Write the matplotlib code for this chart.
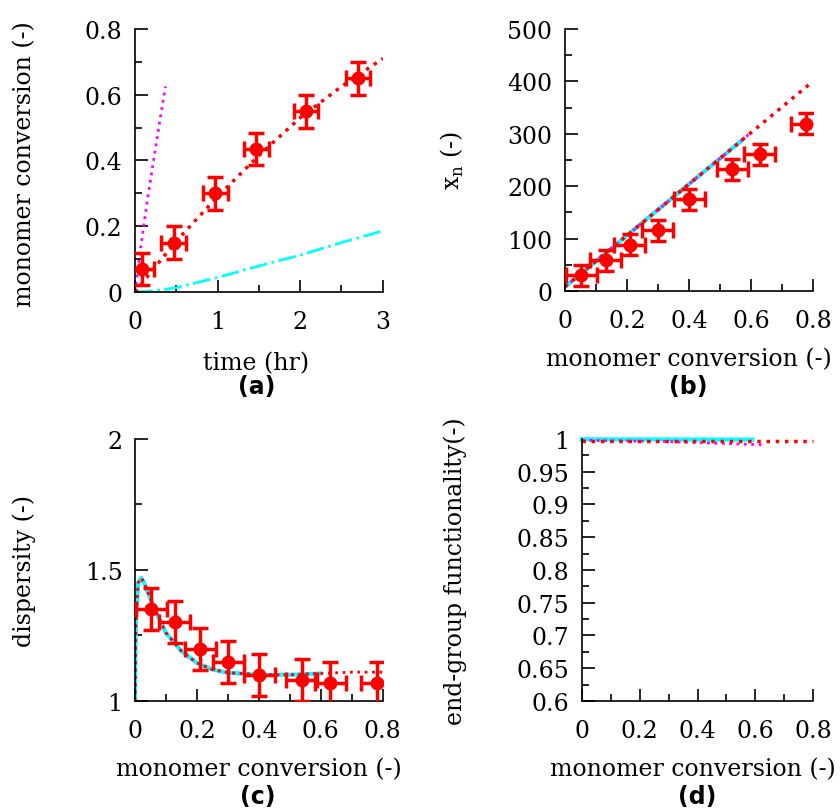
import matplotlib
matplotlib.use("Agg")
import matplotlib.pyplot as plt
from matplotlib.ticker import MultipleLocator
import numpy as np

plt.rcParams['font.family'] = ['DejaVu Serif']
plt.rcParams['font.size'] = 17

# (a) conversion vs time
t_exp = [0.08, 0.47, 0.97, 1.47, 2.07, 2.70]
conv_exp = [0.07, 0.15, 0.30, 0.435, 0.55, 0.65]
t_fit = [0, 0.5, 1.0, 1.5, 2.0, 2.5, 3.0]
conv_fit = [0, 0.155, 0.29, 0.415, 0.53, 0.625, 0.71]
t_mag = [0, 0.05, 0.1, 0.15, 0.2, 0.25, 0.3, 0.37]
conv_mag = [0, 0.10, 0.19, 0.28, 0.36, 0.44, 0.52, 0.625]
t_cyan = [0, 0.25, 0.5, 1.0, 1.5, 2.0, 2.5, 3.0]
conv_cyan = [0, 0.004, 0.013, 0.044, 0.079, 0.112, 0.15, 0.186]

# (b) xn vs conversion
xb_exp = [0.052, 0.132, 0.209, 0.299, 0.401, 0.539, 0.628, 0.779]
xn_exp = [30, 59, 88, 116, 175, 232, 261, 319]
xb_fit = [0, 0.2, 0.4, 0.6, 0.8]
xn_fit = [8, 106, 204, 302, 400]
xb_cyan = [0, 0.2, 0.4, 0.57]
xn_cyan = [8, 106, 204, 287]
xb_mag = [0, 0.2, 0.4, 0.6]
xn_mag = [8, 106, 204, 302]

# (c) dispersity vs conversion
xc_exp = [0.052, 0.129, 0.21, 0.301, 0.401, 0.538, 0.63, 0.78]
disp_exp = [1.35, 1.30, 1.20, 1.15, 1.10, 1.08, 1.07, 1.07]
xc_fit = [0, 0.003, 0.01, 0.02, 0.03, 0.05, 0.075, 0.1, 0.15, 0.2, 0.25,
          0.3, 0.4, 0.5, 0.6, 0.7, 0.8]
disp_fit = [1.0, 1.30, 1.45, 1.47, 1.45, 1.39, 1.32, 1.26, 1.19, 1.145,
            1.12, 1.108, 1.10, 1.10, 1.105, 1.11, 1.11]
xc_mod = xc_fit[:15]
disp_mod = disp_fit[:15]

# (d) end-group functionality
xd_fit = [0, 0.8]
efg_fit = [0.9975, 0.9975]
xd_cyan = [0, 0.59]
efg_cyan = [0.9995, 0.999]
xd_mag = [0, 0.3, 0.627]
efg_mag = [0.998, 0.996, 0.991]

fig = plt.figure(figsize=(8.4, 8.12), dpi=100)
ax_a = fig.add_axes([0.1607, 0.6392, 0.295, 0.3239])
ax_b = fig.add_axes([0.6726, 0.6404, 0.2952, 0.3227])
ax_c = fig.add_axes([0.1607, 0.1355, 0.295, 0.3227])
ax_d = fig.add_axes([0.6929, 0.1355, 0.2750, 0.3227])

err_kw = dict(fmt='o', color='red', ms=9, elinewidth=2.5, capsize=6,
              capthick=2.5, zorder=5)

for ax in (ax_a, ax_b, ax_c, ax_d):
    for s in ('top', 'right'):
        ax.spines[s].set_visible(False)
    ax.spines['left'].set_linewidth(1.2)
    ax.spines['bottom'].set_linewidth(1.2)
    ax.tick_params(which='both', direction='in', width=1.2, labelsize=17)
    ax.tick_params(which='major', length=9)
    ax.tick_params(which='minor', length=5)
    ax.tick_params(axis='x', pad=13)
    ax.tick_params(axis='y', pad=9)

# (a)
ax_a.plot(t_mag, conv_mag, ':', color='magenta', lw=2)
ax_a.plot(t_cyan, conv_cyan, '-.', color='cyan', lw=2)
ax_a.plot(t_fit, conv_fit, ':', color='red', lw=2.5)
ax_a.errorbar(t_exp, conv_exp, xerr=0.15, yerr=0.05, **err_kw)
ax_a.set_xlim(0, 3)
ax_a.set_ylim(0, 0.8)
ax_a.xaxis.set_major_locator(MultipleLocator(1))
ax_a.xaxis.set_minor_locator(MultipleLocator(0.5))
ax_a.yaxis.set_minor_locator(MultipleLocator(0.1))
ax_a.set_yticks([0, 0.2, 0.4, 0.6, 0.8], ['0', '0.2', '0.4', '0.6', '0.8'])
ax_a.set_xlabel('time (hr)')
ax_a.set_ylabel('monomer conversion (-)')

# (b)
ax_b.plot(xb_cyan, xn_cyan, '-', color='cyan', lw=3)
ax_b.plot(xb_mag, xn_mag, ':', color='magenta', lw=2)
ax_b.plot(xb_fit, xn_fit, ':', color='red', lw=2.5)
ax_b.errorbar(xb_exp, xn_exp, xerr=0.05, yerr=20, **err_kw)
ax_b.set_xlim(0, 0.8)
ax_b.set_ylim(0, 500)
ax_b.set_xticks([0, 0.2, 0.4, 0.6, 0.8], ['0', '0.2', '0.4', '0.6', '0.8'])
ax_b.xaxis.set_minor_locator(MultipleLocator(0.1))
ax_b.yaxis.set_major_locator(MultipleLocator(100))
ax_b.yaxis.set_minor_locator(MultipleLocator(50))
ax_b.set_xlabel('monomer conversion (-)')
ax_b.set_ylabel(r'x$_\mathregular{n}$ (-)')

# (c)
ax_c.plot(xc_mod, disp_mod, '-', color='cyan', lw=3)
ax_c.plot(xc_mod, disp_mod, ':', color='magenta', lw=2)
ax_c.plot(xc_fit, disp_fit, ':', color='red', lw=2)
ax_c.errorbar(xc_exp, disp_exp, xerr=0.05, yerr=0.08, **err_kw)
ax_c.set_xlim(0, 0.8)
ax_c.set_ylim(1, 2)
ax_c.set_xticks([0, 0.2, 0.4, 0.6, 0.8], ['0', '0.2', '0.4', '0.6', '0.8'])
ax_c.xaxis.set_minor_locator(MultipleLocator(0.1))
ax_c.set_yticks([1, 1.5, 2], ['1', '1.5', '2'])
ax_c.yaxis.set_minor_locator(MultipleLocator(0.25))
ax_c.set_xlabel('monomer conversion (-)')
ax_c.set_ylabel('dispersity (-)')

# (d)
ax_d.plot(xd_cyan, efg_cyan, '-', color='cyan', lw=3, clip_on=False)
ax_d.plot(xd_mag, efg_mag, ':', color='magenta', lw=2, clip_on=False)
ax_d.plot(xd_fit, efg_fit, ':', color='red', lw=2.5, clip_on=False)
ax_d.set_xlim(0, 0.8)
ax_d.set_ylim(0.6, 1)
ax_d.set_xticks([0, 0.2, 0.4, 0.6, 0.8], ['0', '0.2', '0.4', '0.6', '0.8'])
ax_d.xaxis.set_minor_locator(MultipleLocator(0.1))
yt = [0.6, 0.65, 0.7, 0.75, 0.8, 0.85, 0.9, 0.95, 1]
ax_d.set_yticks(yt, ['0.6', '0.65', '0.7', '0.75', '0.8', '0.85', '0.9', '0.95', '1'])
ax_d.yaxis.set_minor_locator(MultipleLocator(0.025))
ax_d.set_xlabel('monomer conversion (-)')
ax_d.set_ylabel('end-group functionality(-)')

# label positions
ax_a.xaxis.set_label_coords(0.49, -0.225)
ax_a.yaxis.set_label_coords(-0.40, 0.49)
ax_b.xaxis.set_label_coords(0.50, -0.215)
ax_b.yaxis.set_label_coords(-0.40, 0.50)
ax_c.xaxis.set_label_coords(0.50, -0.215)
ax_c.yaxis.set_label_coords(-0.40, 0.50)
ax_d.xaxis.set_label_coords(0.48, -0.215)
ax_d.yaxis.set_label_coords(-0.50, 0.50)

sub_kw = dict(fontsize=17, fontweight='bold', family='DejaVu Sans',
              ha='center', va='center')
fig.text(257 / 840, 1 - 387 / 812, '(a)', **sub_kw)
fig.text(688 / 840, 1 - 387 / 812, '(b)', **sub_kw)
fig.text(258 / 840, 1 - 797 / 812, '(c)', **sub_kw)
fig.text(697 / 840, 1 - 797 / 812, '(d)', **sub_kw)

fig.savefig('out.png', dpi=100)
